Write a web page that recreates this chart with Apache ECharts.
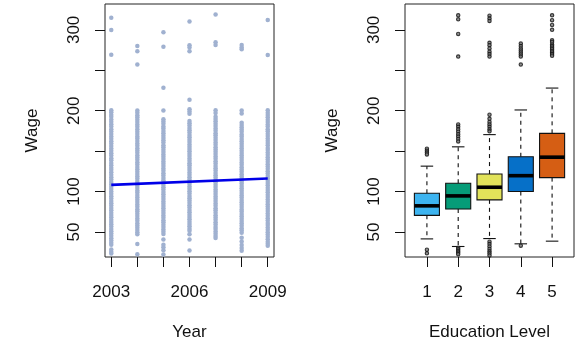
<!DOCTYPE html>
<html>
<head>
<meta charset="utf-8">
<script src="https://cdn.jsdelivr.net/npm/echarts@6/dist/echarts.min.js"></script>
<style>
html,body{margin:0;padding:0;background:#fff;}
#chart{width:579px;height:346px;}
</style>
</head>
<body>
<div id="chart"></div>
<script>
// ---------- DATA ----------
const years = [2003, 2004, 2005, 2006, 2007, 2008, 2009];
const yearLabels = [2003, 2006, 2009];
const wageTicks = [50, 100, 150, 200, 250, 300];
const wageLabels = [50, 100, 200, 300];

const wage2003 = [315.0, 299.8, 269.2, 200.5, 198.1, 195.0, 192.6, 189.2, 186.4, 183.1, 180.5, 177.0, 174.3, 171.2, 168.0, 165.4, 162.1, 159.3, 156.4, 153.2, 150.6, 147.3, 144.5, 141.2, 138.7, 135.4, 132.6, 129.5, 126.8, 123.7, 120.9, 117.6, 114.8, 111.8, 108.9, 105.8, 103.1, 100.0, 97.2, 94.1, 91.3, 88.4, 85.5, 82.6, 79.7, 76.9, 73.8, 71.0, 68.1, 65.2, 62.4, 59.5, 56.6, 53.7, 50.9, 48.0, 45.2, 42.3, 39.4, 36.6, 34.1, 28.3, 25.6, 23.2];
const wage2004 = [280.1, 273.4, 257.2, 200.2, 197.6, 194.5, 191.8, 188.7, 185.9, 182.8, 180.0, 176.9, 174.1, 171.3, 168.2, 165.5, 162.6, 159.4, 156.7, 153.6, 150.8, 147.9, 145.0, 142.1, 139.3, 136.2, 133.5, 130.4, 127.7, 124.6, 121.8, 118.9, 116.0, 113.1, 110.3, 107.2, 104.5, 101.4, 98.7, 95.6, 92.8, 89.9, 87.0, 84.1, 81.3, 78.2, 75.5, 72.4, 69.7, 66.6, 63.8, 60.9, 58.0, 55.1, 52.3, 49.6, 47.0, 35.2, 22.3];
const wage2005 = [297.1, 279.0, 228.3, 200.3, 189.4, 186.5, 183.7, 180.6, 177.9, 174.8, 172.0, 169.1, 166.2, 163.3, 160.5, 157.4, 154.7, 151.6, 148.9, 145.8, 143.0, 140.1, 137.2, 134.3, 131.5, 128.4, 125.7, 122.6, 119.9, 116.8, 114.0, 111.1, 108.2, 105.3, 102.5, 99.4, 96.7, 93.6, 90.9, 87.8, 85.0, 82.1, 79.2, 76.3, 73.5, 70.4, 67.7, 64.6, 61.9, 58.8, 56.0, 53.1, 50.2, 47.4, 40.6, 34.2, 31.0, 27.3, 22.1];
const wage2006 = [310.2, 281.0, 278.1, 273.5, 213.4, 201.8, 198.9, 196.2, 187.3, 184.5, 181.6, 178.7, 175.8, 173.0, 169.9, 167.2, 164.1, 161.4, 158.3, 155.5, 152.6, 149.7, 146.8, 144.0, 140.9, 138.2, 135.1, 132.4, 129.3, 126.5, 123.6, 120.7, 117.8, 115.0, 111.9, 109.2, 106.1, 103.4, 100.3, 97.5, 94.6, 91.7, 88.8, 86.0, 82.9, 80.2, 77.1, 74.4, 71.3, 68.5, 65.6, 62.7, 59.8, 57.0, 54.1, 51.4, 47.2, 40.5, 27.0];
const wage2007 = [318.9, 284.8, 281.2, 200.6, 197.3, 192.4, 189.6, 186.8, 183.9, 181.0, 178.1, 175.3, 172.2, 169.5, 166.4, 163.7, 160.6, 157.8, 154.9, 152.0, 149.1, 146.3, 143.2, 140.5, 137.4, 134.7, 131.6, 128.8, 125.9, 123.0, 120.1, 117.3, 114.2, 111.5, 108.4, 105.7, 102.6, 99.8, 96.9, 94.0, 91.1, 88.3, 85.2, 82.5, 79.4, 76.7, 73.6, 70.8, 67.9, 65.0, 62.1, 59.3, 56.2, 53.5, 50.4, 47.7, 45.0, 42.6];
const wage2008 = [281.3, 278.2, 275.9, 200.1, 196.4, 185.2, 182.4, 179.5, 176.6, 173.8, 170.7, 168.0, 164.9, 162.2, 159.1, 156.3, 153.4, 150.5, 147.6, 144.8, 141.7, 139.0, 135.9, 133.2, 130.1, 127.3, 124.4, 121.5, 118.6, 115.8, 112.7, 110.0, 106.9, 104.2, 101.1, 98.3, 95.4, 92.5, 89.6, 86.8, 83.7, 81.0, 77.9, 75.2, 72.1, 69.3, 66.4, 63.5, 60.6, 57.8, 54.7, 52.0, 49.1, 42.7, 38.3, 34.0, 30.2, 26.8];
const wage2009 = [312.2, 269.0, 200.4, 197.5, 194.7, 191.8, 188.9, 186.1, 183.0, 180.3, 177.2, 174.5, 171.4, 168.6, 165.7, 162.8, 159.9, 157.1, 154.0, 151.3, 148.2, 145.5, 142.4, 139.6, 136.7, 133.8, 130.9, 128.1, 125.0, 122.3, 119.2, 116.5, 113.4, 110.6, 107.7, 104.8, 101.9, 99.1, 96.0, 93.3, 90.2, 87.5, 84.4, 81.6, 78.7, 75.8, 72.9, 70.1, 67.0, 64.3, 61.2, 58.5, 55.4, 52.6, 49.7, 46.8, 43.9, 41.1, 38.0, 35.3, 33.0];
const wageByYear = [wage2003, wage2004, wage2005, wage2006, wage2007, wage2008, wage2009];

// linear fit line
const fitYears = [2003, 2009];
const fitWage = [108.2, 116.1];

// boxplot by education level
const eduLevels = [1, 2, 3, 4, 5];
const whiskerLow = [41.4, 32.0, 41.8, 35.3, 38.6];
const boxQ1 = [70.5, 78.3, 89.7, 100.0, 117.2];
const boxMedian = [82.3, 94.6, 105.3, 119.6, 142.5];
const boxQ3 = [97.9, 110.2, 121.6, 143.0, 172.0];
const whiskerHigh = [131.4, 155.3, 170.4, 200.9, 228.0];

const outliers1 = [153.0, 150.6, 148.2, 145.9, 28.0, 23.5];
const outliers2 = [318.0, 313.0, 295.0, 267.0, 183.0, 180.0, 177.0, 174.0, 171.0, 168.0, 165.0, 162.0, 30.5, 28.5, 26.5, 24.5, 22.5];
const outliers3 = [317.5, 314.0, 311.0, 284.0, 281.0, 277.0, 273.0, 270.0, 267.0, 195.0, 190.0, 186.0, 183.0, 180.0, 177.0, 174.5, 38.0, 35.0, 32.0, 29.0, 26.0, 23.5, 21.0];
const outliers4 = [283.0, 280.0, 277.0, 274.5, 272.0, 269.5, 267.0, 257.0, 33.0];
const outliers5 = [318.0, 312.0, 306.0, 300.0, 287.0, 285.0, 282.0, 280.0, 278.0, 276.0, 274.0, 272.0, 270.0, 268.0];
const outliersByLevel = [outliers1, outliers2, outliers3, outliers4, outliers5];

// ---------- STYLE ----------
const boxColors = ['#3db4f0', '#069c78', '#e2e35a', '#0670c8', '#d55e14'];
const FONT = 'Liberation Sans, Arial, Helvetica, sans-serif';
const INK = '#111';
const FS = 17;

// ---------- BUILD ----------
const scatterData = [];
years.forEach((y, i) => wageByYear[i].forEach(w => scatterData.push([y, w])));
const fitData = fitYears.map((y, i) => [y, fitWage[i]]);
const boxData = eduLevels.map((e, i) => [e, whiskerLow[i], boxQ1[i], boxMedian[i], boxQ3[i], whiskerHigh[i]]);
const outlierData = [];
eduLevels.forEach((e, i) => outliersByLevel[i].forEach(w => outlierData.push([e, w])));

const plain = v => String(v);

function yAxisCfg(gridIndex) {
  return {
    gridIndex: gridIndex, type: 'value', min: 19, max: 332,
    name: 'Wage', nameLocation: 'middle', nameGap: 64,
    nameTextStyle: {fontFamily: FONT, fontSize: FS, color: INK},
    axisLine: {show: false},
    splitLine: {show: false},
    axisTick: {show: true, length: 10, customValues: wageTicks, lineStyle: {color: INK, width: 1}},
    axisLabel: {rotate: 90, margin: 22, customValues: wageLabels, formatter: plain, fontFamily: FONT, fontSize: FS, color: INK}
  };
}

const option = {
  backgroundColor: '#fff',
  animation: false,
  grid: [
    {left: 105, top: 4, width: 169, height: 255, show: true, borderColor: '#222', borderWidth: 1, backgroundColor: 'transparent'},
    {left: 405, top: 4, width: 169, height: 255, show: true, borderColor: '#222', borderWidth: 1, backgroundColor: 'transparent'}
  ],
  xAxis: [
    {
      gridIndex: 0, type: 'value', min: 2002.76, max: 2009.24,
      name: 'Year', nameLocation: 'middle', nameGap: 67,
      nameTextStyle: {fontFamily: FONT, fontSize: FS, color: INK},
      axisLine: {show: false}, splitLine: {show: false},
      axisTick: {show: true, length: 10, customValues: years, lineStyle: {color: INK}},
      axisLabel: {margin: 27, customValues: yearLabels, formatter: plain, fontFamily: FONT, fontSize: FS, color: INK}
    },
    {
      gridIndex: 1, type: 'value', min: 0.3, max: 5.7,
      name: 'Education Level', nameLocation: 'middle', nameGap: 67,
      nameTextStyle: {fontFamily: FONT, fontSize: FS, color: INK},
      axisLine: {show: false}, splitLine: {show: false},
      axisTick: {show: true, length: 10, customValues: eduLevels, lineStyle: {color: INK}},
      axisLabel: {margin: 27, customValues: eduLevels, formatter: plain, fontFamily: FONT, fontSize: FS, color: INK}
    }
  ],
  yAxis: [yAxisCfg(0), yAxisCfg(1)],
  series: [
    {
      type: 'scatter', xAxisIndex: 0, yAxisIndex: 0, data: scatterData,
      symbol: 'circle', symbolSize: 4.5, itemStyle: {color: '#a0b1d0', opacity: 1},
      silent: true, z: 2
    },
    {
      type: 'line', xAxisIndex: 0, yAxisIndex: 0, data: fitData,
      symbol: 'none', lineStyle: {color: '#0000e8', width: 2.6}, silent: true, z: 3
    },
    {
      type: 'custom', xAxisIndex: 1, yAxisIndex: 1, data: boxData,
      encode: {x: 0, y: [1, 2, 3, 4, 5]},
      silent: true, z: 3,
      renderItem: function (params, api) {
        const x = api.value(0);
        const lo = api.coord([x, api.value(1)]);
        const q1 = api.coord([x, api.value(2)]);
        const md = api.coord([x, api.value(3)]);
        const q3 = api.coord([x, api.value(4)]);
        const hi = api.coord([x, api.value(5)]);
        const w = api.size([0.8, 0])[0];
        const half = w / 2, st = w / 4;
        const cx = q1[0];
        const thin = {stroke: INK, lineWidth: 1.1};
        const dash = {stroke: INK, lineWidth: 1.1, lineDash: [4, 4]};
        return {
          type: 'group',
          children: [
            {type: 'line', shape: {x1: cx, y1: q3[1], x2: cx, y2: hi[1]}, style: dash},
            {type: 'line', shape: {x1: cx, y1: q1[1], x2: cx, y2: lo[1]}, style: dash},
            {type: 'line', shape: {x1: cx - st, y1: hi[1], x2: cx + st, y2: hi[1]}, style: thin},
            {type: 'line', shape: {x1: cx - st, y1: lo[1], x2: cx + st, y2: lo[1]}, style: thin},
            {type: 'rect', shape: {x: cx - half, y: q3[1], width: w, height: q1[1] - q3[1]},
              style: {fill: boxColors[params.dataIndex], stroke: INK, lineWidth: 1.1}},
            {type: 'line', shape: {x1: cx - half, y1: md[1], x2: cx + half, y2: md[1]},
              style: {stroke: '#000', lineWidth: 3.6}}
          ]
        };
      }
    },
    {
      type: 'scatter', xAxisIndex: 1, yAxisIndex: 1, data: outlierData,
      symbol: 'circle', symbolSize: 3.4,
      itemStyle: {color: '#777', borderColor: '#111', borderWidth: 1.1}, silent: true, z: 4
    }
  ]
};

const chart = echarts.init(document.getElementById('chart'), null, {renderer: 'canvas'});
chart.setOption(option);
</script>
</body>
</html>
